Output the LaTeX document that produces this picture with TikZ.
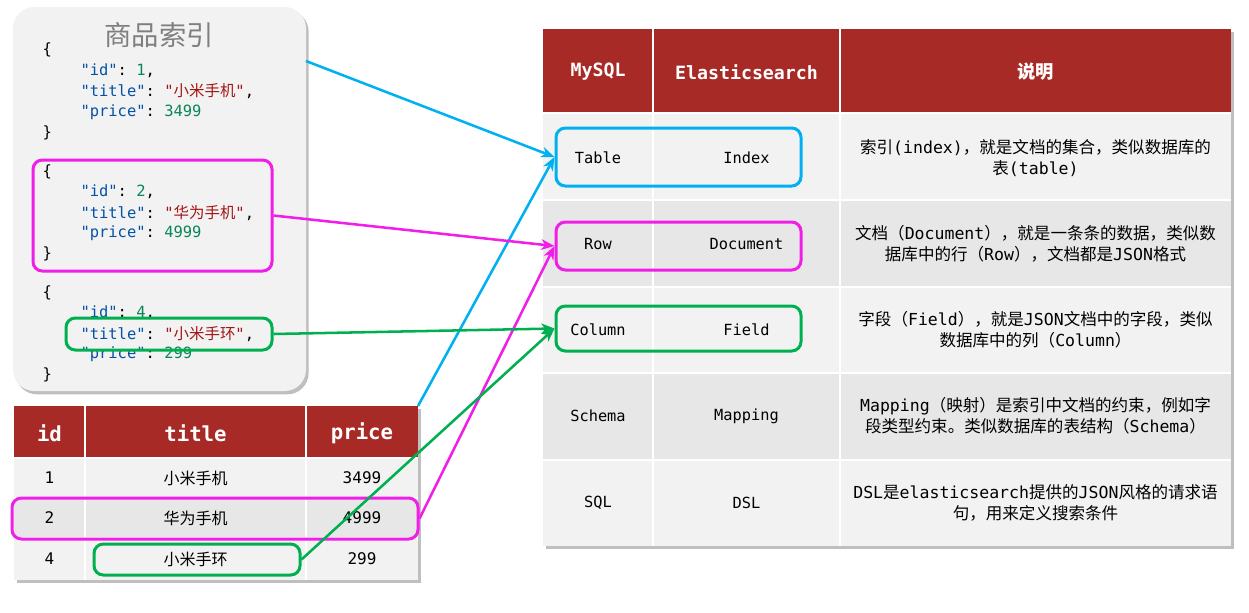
\documentclass[tikz,border=0pt]{standalone}
\usepackage{fontspec}
\setmonofont{DejaVu Sans Mono}
\newfontfamily\cjk{Noto Sans CJK SC}
\usetikzlibrary{arrows.meta,shadows}

\definecolor{hdrred}{RGB}{168,42,38}
\definecolor{rowA}{RGB}{242,242,242}
\definecolor{rowB}{RGB}{231,231,231}
\definecolor{hlblue}{RGB}{0,176,240}
\definecolor{hlpink}{RGB}{240,30,230}
\definecolor{hlgreen}{RGB}{0,176,80}
\definecolor{jkey}{RGB}{4,81,165}
\definecolor{jnum}{RGB}{9,134,88}
\definecolor{jstr}{RGB}{163,21,21}
\definecolor{titlegray}{RGB}{127,127,127}

\newcommand{\zh}[1]{{\cjk #1}}

\tikzset{every picture/.style={line width=0.75pt}}
\tikzset{
	json/.style={anchor=west, inner sep=0pt, font=\ttfamily\fontsize{11.6}{14}\selectfont},
	cellmono/.style={font=\ttfamily\fontsize{11.5}{14}\selectfont},
	lcell/.style={font=\ttfamily\fontsize{12}{14}\selectfont},
	lhdr/.style={text=white, font=\ttfamily\bfseries\fontsize{15.5}{18}\selectfont},
	rhdr/.style={text=white, font=\ttfamily\bfseries\fontsize{13.7}{16}\selectfont},
	desc/.style={align=center, font=\ttfamily\fontsize{12.4}{15.75}\selectfont},
	hlbox/.style={draw=#1, line width=2.25pt, rounded corners=7pt, inner sep=0pt},
	link/.style={draw=#1, line width=1.9pt, -{Stealth[length=10pt,width=8pt,inset=3pt]}},
	softshadow/.style={drop shadow={shadow xshift=2pt, shadow yshift=-2.5pt, opacity=0.25, fill=black}},
	sep/.style={draw=white, line width=1.1pt}}

\begin{document}
\begin{tikzpicture}[x=0.75pt,y=0.75pt,yscale=-1,xscale=1]
	\useasboundingbox (0,0) rectangle (1249,612);

	%Shape: Rounded Rect [id:panel] 
	\fill [rowA, softshadow, rounded corners=16pt] (13,7) rectangle (306,391);
	% Text Node
	\node [text=titlegray, font=\cjk\fontsize{20.5}{24}\selectfont] (idxname) at (159,35) {商品索引};

	% Text Node
	\node [json] (j1a) at (42,50) {\{};
	\node [json] (j1b) at (80,71) {{\color{jkey}"id"}: {\color{jnum}1},};
	\node [json] (j1c) at (80,91) {{\color{jkey}"title"}: {\color{jstr}"\zh{小米手机}"},};
	\node [json] (j1d) at (80,112) {{\color{jkey}"price"}: {\color{jnum}3499}};
	\node [json] (j1e) at (42,133) {\}};
	% Text Node
	\node [json] (j2a) at (42,172) {\{};
	\node [json] (j2b) at (80,192) {{\color{jkey}"id"}: {\color{jnum}2},};
	\node [json] (j2c) at (80,213) {{\color{jkey}"title"}: {\color{jstr}"\zh{华为手机}"},};
	\node [json] (j2d) at (80,233) {{\color{jkey}"price"}: {\color{jnum}4999}};
	\node [json] (j2e) at (42,254) {\}};
	% Text Node
	\node [json] (j3a) at (42,293) {\{};
	\node [json] (j3b) at (80,313) {{\color{jkey}"id"}: {\color{jnum}4},};
	\node [json] (j3c) at (80,334) {{\color{jkey}"title"}: {\color{jstr}"\zh{小米手环}"},};
	\node [json] (j3d) at (80,354) {{\color{jkey}"price"}: {\color{jnum}299}};
	\node [json] (j3e) at (42,375) {\}};

	%Shape: Table [id:goods] 
	\fill [rowA, softshadow] (14,406) rectangle (418,580);
	\fill [hdrred] (14,406) rectangle (418,458);
	\fill [rowB] (14,498) rectangle (418,538);
	\draw [sep] (85,406) -- (85,580) (306,406) -- (306,580);
	\draw [sep] (14,458) -- (418,458) (14,498) -- (418,498) (14,538) -- (418,538);
	% Text Node
	\node [lhdr] (lh1) at (49.5,433) {id};
	\node [lhdr] (lh2) at (195.5,433) {title};
	\node [lhdr] (lh3) at (362,433) {price};
	% Text Node
	\node [lcell] (l11) at (49.5,478) {1};
	\node [lcell] (l12) at (195.5,478) {\zh{小米手机}};
	\node [lcell] (l13) at (362,478) {3499};
	\node [lcell] (l21) at (49.5,518) {2};
	\node [lcell] (l22) at (195.5,518) {\zh{华为手机}};
	\node [lcell] (l23) at (362,518) {4999};
	\node [lcell] (l31) at (49.5,559) {4};
	\node [lcell] (l32) at (195.5,559) {\zh{小米手环}};
	\node [lcell] (l33) at (362,559) {299};

	%Shape: Table [id:compare] 
	\fill [rowA, softshadow] (543,29) rectangle (1231,546);
	\fill [hdrred] (543,29) rectangle (1231,113);
	\fill [rowB] (543,200) rectangle (1231,287);
	\fill [rowB] (543,373) rectangle (1231,460);
	\draw [sep] (653,29) -- (653,546) (840,29) -- (840,546);
	\draw [sep] (543,113) -- (1231,113) (543,200) -- (1231,200) (543,287) -- (1231,287) (543,373) -- (1231,373) (543,460) -- (1231,460);
	% Text Node
	\node [rhdr] (rh1) at (598,72) {MySQL};
	\node [rhdr] (rh2) at (746.5,72) {Elasticsearch};
	\node [rhdr] (rh3) at (1035.5,72) {\zh{说明}};
	% Text Node
	\node [cellmono] (r11) at (598,158) {Table};
	\node [cellmono] (r12) at (746.5,158) {Index};
	\node [desc] (r13) at (1035.5,158) {\zh{索引}(index)\zh{，就是文档的集合，类似数据库的}\\\zh{表}(table)};
	\node [cellmono] (r21) at (598,244) {Row};
	\node [cellmono] (r22) at (746.5,244) {Document};
	\node [desc] (r23) at (1035.5,244) {\zh{文档（}Document\zh{），就是一条条的数据，类似数}\\\zh{据库中的行（}Row\zh{），文档都是}JSON\zh{格式}};
	\node [cellmono] (r31) at (598,330) {Column};
	\node [cellmono] (r32) at (746.5,330) {Field};
	\node [desc] (r33) at (1035.5,330) {\zh{字段（}Field\zh{），就是}JSON\zh{文档中的字段，类似}\\\zh{数据库中的列（}Column\zh{）}};
	\node [cellmono] (r41) at (598,416) {Schema};
	\node [cellmono] (r42) at (746.5,416) {Mapping};
	\node [desc] (r43) at (1035.5,416) {Mapping\zh{（映射）是索引中文档的约束，例如字}\\\zh{段类型约束。类似数据库的表结构（}Schema\zh{）}};
	\node [cellmono] (r51) at (598,503) {SQL};
	\node [cellmono] (r52) at (746.5,503) {DSL};
	\node [desc] (r53) at (1035.5,503) {DSL\zh{是}elasticsearch\zh{提供的}JSON\zh{风格的请求语}\\\zh{句，用来定义搜索条件}};

	%Shape: Rounded Rect [id:highlights] 
	\node [hlbox=hlpink, minimum width=179.25pt, minimum height=83.25pt] (jdocbox) at (152.5,215.5) {};
	\node [hlbox=hlgreen, minimum width=154.5pt, minimum height=24pt] (jfldbox) at (169,334) {};
	\node [hlbox=hlpink, minimum width=304.5pt, minimum height=30.75pt] (lrowbox) at (215,518.5) {};
	\node [hlbox=hlgreen, minimum width=154.5pt, minimum height=23.25pt] (lcellbox) at (197,559.5) {};
	\node [hlbox=hlblue, minimum width=183.75pt, minimum height=43.5pt] (tblbox) at (678.5,157) {};
	\node [hlbox=hlpink, minimum width=183.75pt, minimum height=36pt] (rowbox) at (678.5,246) {};
	\node [hlbox=hlgreen, minimum width=183.75pt, minimum height=33.75pt] (colbox) at (678.5,328.5) {};

	\coordinate (panelout) at (306,61);
	\coordinate (goodscorner) at (418,406);

	%Straight Lines [id:links] 
	\draw [link=hlblue] (panelout) -- (tblbox.west);
	\draw [link=hlblue] (goodscorner) -- (tblbox.west);
	\draw [link=hlpink] (jdocbox.east) -- (rowbox.west);
	\draw [link=hlpink] (lrowbox.east) -- (rowbox.west);
	\draw [link=hlgreen] (jfldbox.east) -- (colbox.west);
	\draw [link=hlgreen] (lcellbox.east) -- (colbox.west);

\end{tikzpicture}
\end{document}
